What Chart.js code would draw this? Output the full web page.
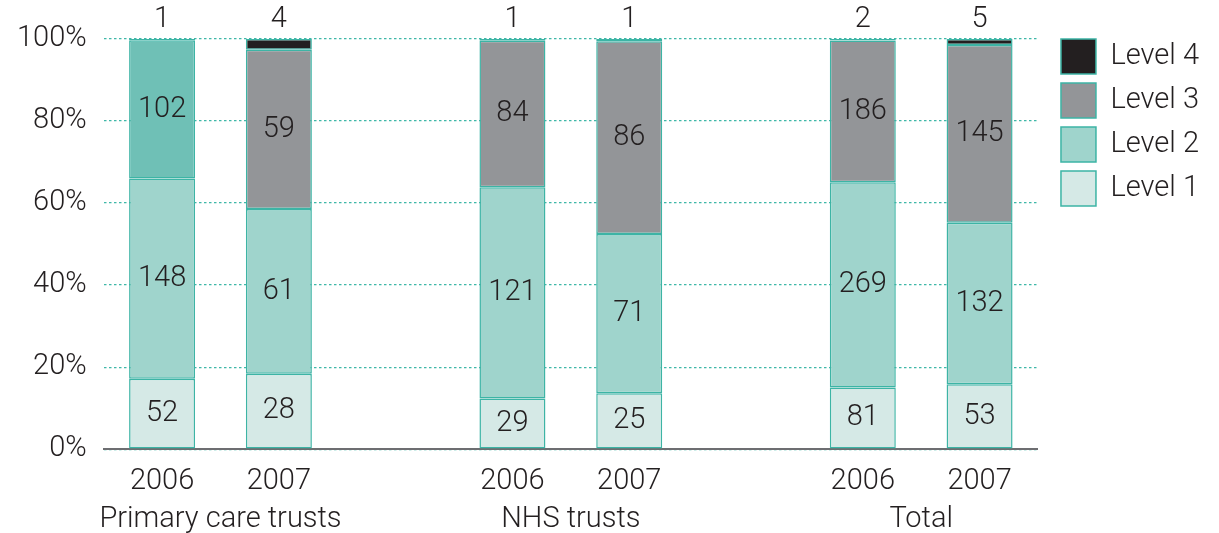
<!DOCTYPE html>
<html>
<head>
<meta charset="utf-8">
<script src="https://cdn.jsdelivr.net/npm/chart.js@4/dist/chart.umd.min.js"></script>
<style>
  html, body { margin: 0; padding: 0; background: #ffffff; }
  #wrap { width: 1219px; height: 533px; position: relative; }
</style>
</head>
<body>
<div id="wrap"><canvas id="chart"></canvas></div>
<script>
// Year under each bar; blank slots separate the three organisation groups
const yearLabels = ['2006', '2007', '', '2006', '2007', '', '2006', '2007'];
const groupNames = ['Primary care trusts', 'NHS trusts', 'Total'];

// Number of organisations at each level, per bar
const level1 = [52, 28, null, 29, 25, null, 81, 53];
const level2 = [148, 61, null, 121, 71, null, 269, 132];
const level3 = [102, 59, null, 84, 86, null, 186, 145];
const level4 = [1, 4, null, 1, 1, null, 2, 5];

const levelNames = ['Level 1', 'Level 2', 'Level 3', 'Level 4'];
const levelCounts = [level1, level2, level3, level4];
const levelColors = ['#d5e9e6', '#9fd4cc', '#939598', '#231f20'];
const pctLevel3Colors = ['#6fc0b6', '#939598', '#939598', '#939598', '#939598', '#939598', '#939598', '#939598'];
const edgeColor = '#3db4a5';
const inkColor = '#231f20';
const FONT = 'Roboto, "Liberation Sans", sans-serif';
const FONT_SIZE = 29;

const totals = yearLabels.map((_, j) =>
  levelCounts.reduce((s, arr) => s + (arr[j] || 0), 0));

const datasets = levelCounts.map((counts, i) => ({
  label: levelNames[i],
  data: counts.map((v, j) => v === null ? null : v / totals[j] * 100),
  xAxisID: 'x',
  yAxisID: 'y',
  backgroundColor: i === 2 ? pctLevel3Colors : levelColors[i],
  borderColor: edgeColor,
  borderWidth: 1.5,
  borderSkipped: false,
  categoryPercentage: 1,
  barPercentage: 0.565
}));

// Writes the organisation count on each segment (Level 4 above the bar)
const countLabels = {
  id: 'countLabels',
  afterDatasetsDraw(chart) {
    const ctx = chart.ctx;
    ctx.save();
    ctx.font = '300 ' + FONT_SIZE + 'px ' + FONT;
    ctx.fillStyle = inkColor;
    ctx.textAlign = 'center';
    ctx.textBaseline = 'middle';
    chart.data.datasets.forEach((ds, i) => {
      const meta = chart.getDatasetMeta(i);
      meta.data.forEach((bar, j) => {
        const v = levelCounts[i][j];
        if (v === null) return;
        if (i === 3) {
          ctx.fillText(String(v), bar.x, bar.y - 19);
        } else {
          ctx.fillText(String(v), bar.x, (bar.y + bar.base) / 2);
        }
      });
    });
    ctx.restore();
  }
};

// Organisation name centred under each pair of years
const groupTitles = {
  id: 'groupTitles',
  afterDraw(chart) {
    const ctx = chart.ctx;
    const xs = chart.scales.x;
    const runs = [];
    let cur = [];
    yearLabels.forEach((lab, j) => {
      if (lab) { cur.push(j); } else if (cur.length) { runs.push(cur); cur = []; }
    });
    if (cur.length) runs.push(cur);
    ctx.save();
    ctx.font = '300 ' + FONT_SIZE + 'px ' + FONT;
    ctx.fillStyle = inkColor;
    ctx.textAlign = 'center';
    ctx.textBaseline = 'middle';
    runs.forEach((run, g) => {
      const mid = (xs.getPixelForValue(run[0]) + xs.getPixelForValue(run[run.length - 1])) / 2;
      ctx.fillText(groupNames[g], mid, chart.chartArea.bottom + 71);
    });
    ctx.restore();
  }
};

const tickFont = { family: FONT, size: FONT_SIZE, weight: '300' };

new Chart(document.getElementById('chart'), {
  type: 'bar',
  data: { labels: yearLabels, datasets },
  plugins: [countLabels, groupTitles],
  options: {
    responsive: true,
    maintainAspectRatio: false,
    animation: false,
    layout: { padding: { top: 30, bottom: 19, left: 0, right: 10 } },
    plugins: {
      tooltip: { enabled: false },
      legend: {
        position: 'right',
        align: 'start',
        reverse: true,
        labels: {
          boxWidth: 35,
          boxHeight: 35,
          padding: 9,
          color: inkColor,
          font: tickFont,
          generateLabels(chart) {
            const items = Chart.defaults.plugins.legend.labels.generateLabels(chart);
            items.forEach(it => { it.fillStyle = levelColors[it.datasetIndex]; });
            return items;
          }
        }
      }
    },
    scales: {
      x: {
        stacked: true,
        grid: { display: false, drawTicks: false },
        border: { display: true, color: '#6d6e71', width: 2 },
        ticks: {
          padding: 15,
          color: inkColor,
          font: tickFont,
          maxRotation: 0,
          autoSkip: false
        }
      },
      y: {
        stacked: true,
        min: 0,
        max: 100,
        grid: {
          color: '#3fb8a8',
          lineWidth: 1.3,
          drawTicks: false
        },
        border: { display: false, dash: [2.5, 2.5] },
        ticks: {
          stepSize: 20,
          padding: 17,
          color: inkColor,
          font: tickFont,
          callback: v => v + '%'
        }
      },
      // empty strips that keep space above the plot and before the legend
      gapTop: {
        type: 'linear',
        position: 'top',
        grid: { display: false, drawTicks: false },
        border: { display: false },
        ticks: { display: false },
        afterFit(scale) { scale.height = 9; }
      },
      gapRight: {
        type: 'linear',
        position: 'right',
        grid: { display: false, drawTicks: false },
        border: { display: false },
        ticks: { display: false },
        afterFit(scale) { scale.width = 14; }
      }
    }
  }
});
</script>
</body>
</html>
